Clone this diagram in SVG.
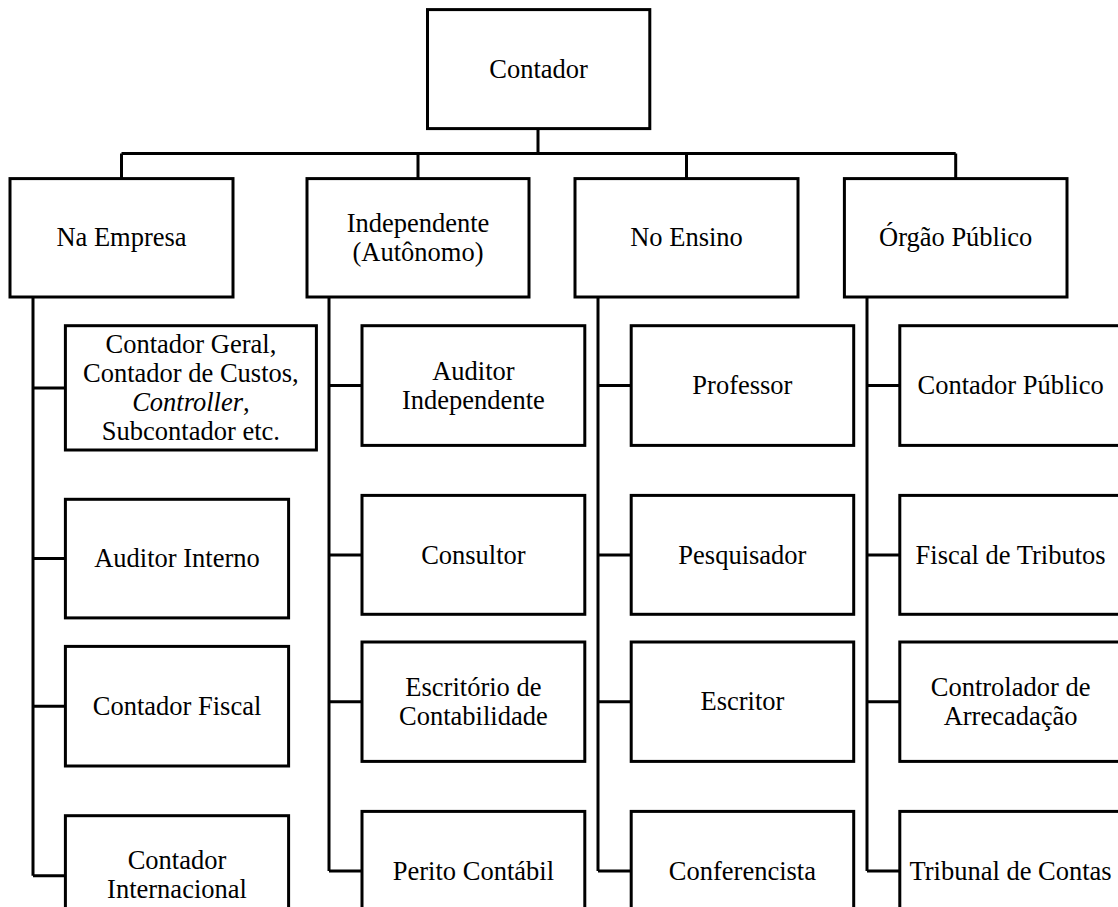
<svg xmlns="http://www.w3.org/2000/svg" width="1118" height="907" viewBox="0 0 1118 907">
<style>
.box{fill:#fff;stroke:#000;stroke-width:3}
.con{fill:none;stroke:#000;stroke-width:3}
.t{font-family:'Liberation Serif','Times New Roman',serif;font-size:26.5px;fill:#000;text-anchor:middle}
</style>
<rect width="1118" height="907" fill="#fff"/>
<g id="connectors" class="con">
<path d="M538 128.6V153.6M121.5 153.6H955.7M121.5 153.6V178.6M418 153.6V178.6M686.5 153.6V178.6M955.7 153.6V178.6"/>
<path d="M33 297V875.7M33 388H65.4M33 558.6H65.4M33 706.2H65.4M33 875.7H65.4"/>
<path d="M329 297V871M329 385.6H362M329 554.9H362M329 701.7H362M329 871H362"/>
<path d="M598 297V871M598 385.6H631.2M598 554.9H631.2M598 701.7H631.2M598 871H631.2"/>
<path d="M867 297V871M867 385.6H899.8M867 554.9H899.8M867 701.7H899.8M867 871H899.8"/>
</g>
<g class="t">
<g id="contador"><rect class="box" x="427.5" y="9.6" width="222.3" height="119"/><text x="538.6" y="77.7">Contador</text></g>
<g id="na-empresa"><rect class="box" x="10" y="178.6" width="223" height="118.4"/><text x="121.5" y="246.4">Na Empresa</text></g>
<g id="independente"><rect class="box" x="307" y="178.6" width="222" height="118.4"/><text x="418" y="231.9">Independente</text><text x="418" y="260.9">(Autônomo)</text></g>
<g id="no-ensino"><rect class="box" x="575" y="178.6" width="223" height="118.4"/><text x="686.5" y="246.4">No Ensino</text></g>
<g id="orgao-publico"><rect class="box" x="844.4" y="178.6" width="222.6" height="118.4"/><text x="955.7" y="246.4">Órgão Público</text></g>

<g id="contador-geral"><rect class="box" x="65.4" y="325.7" width="251" height="124.3"/>
<text x="190.9" y="353">Contador Geral,</text><text x="190.9" y="382">Contador de Custos,</text><text x="190.9" y="411"><tspan font-style="italic">Controller</tspan>,</text><text x="190.9" y="440">Subcontador etc.</text></g>
<g id="auditor-interno"><rect class="box" x="65.4" y="499.3" width="223.2" height="118.6"/><text x="177" y="567.2">Auditor Interno</text></g>
<g id="contador-fiscal"><rect class="box" x="65.4" y="646.4" width="223.2" height="119.6"/><text x="177" y="714.8">Contador Fiscal</text></g>
<g id="contador-internacional"><rect class="box" x="65.4" y="815.7" width="223.2" height="119"/><text x="177" y="869.3">Contador</text><text x="177" y="898.3">Internacional</text></g>

<g id="auditor-independente"><rect class="box" x="362" y="325.7" width="222.8" height="119.7"/><text x="473.4" y="379.7">Auditor</text><text x="473.4" y="408.7">Independente</text></g>
<g id="consultor"><rect class="box" x="362" y="495.4" width="222.8" height="118.9"/><text x="473.4" y="563.5">Consultor</text></g>
<g id="escritorio"><rect class="box" x="362" y="642" width="222.8" height="119.4"/><text x="473.4" y="695.8">Escritório de</text><text x="473.4" y="724.8">Contabilidade</text></g>
<g id="perito"><rect class="box" x="362" y="811.4" width="222.8" height="119"/><text x="473.4" y="879.6">Perito Contábil</text></g>

<g id="professor"><rect class="box" x="631.2" y="325.7" width="222.5" height="119.7"/><text x="742.4" y="394.2">Professor</text></g>
<g id="pesquisador"><rect class="box" x="631.2" y="495.4" width="222.5" height="118.9"/><text x="742.4" y="563.5">Pesquisador</text></g>
<g id="escritor"><rect class="box" x="631.2" y="642" width="222.5" height="119.4"/><text x="742.4" y="710.3">Escritor</text></g>
<g id="conferencista"><rect class="box" x="631.2" y="811.4" width="222.5" height="119"/><text x="742.4" y="879.6">Conferencista</text></g>

<g id="contador-publico"><rect class="box" x="899.8" y="325.7" width="222" height="119.7"/><text x="1010.6" y="394.2">Contador Público</text></g>
<g id="fiscal-tributos"><rect class="box" x="899.8" y="495.4" width="222" height="118.9"/><text x="1010.6" y="563.5">Fiscal de Tributos</text></g>
<g id="controlador"><rect class="box" x="899.8" y="642" width="222" height="119.4"/><text x="1010.6" y="695.8">Controlador de</text><text x="1010.6" y="724.8">Arrecadação</text></g>
<g id="tribunal"><rect class="box" x="899.8" y="811.4" width="222" height="119"/><text x="1010.6" y="879.6">Tribunal de Contas</text></g>
</g>
</svg>
